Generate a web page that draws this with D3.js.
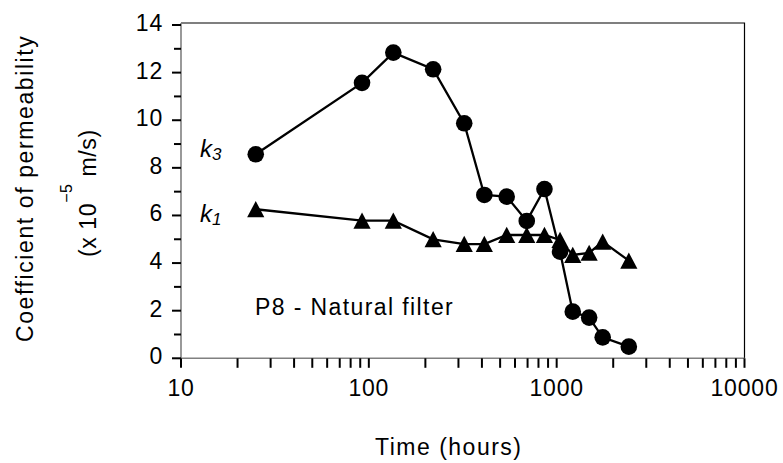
<!DOCTYPE html>
<html>
<head>
<meta charset="utf-8">
<script src="https://cdn.jsdelivr.net/npm/d3@7"></script>
<style>
	body { margin: 0; background: #fff; }
	svg { display: block; }
	text { font-family: "Liberation Sans", Arial, Helvetica, sans-serif; fill: #000; }
</style>
</head>
<body>
<div id="chart"></div>
<script>
// --- DATA --- //
var times = [25, 92, 135, 220, 322, 412, 542, 693, 861, 1042, 1218, 1489, 1758, 2422];
var k3Values = [8.57, 11.57, 12.84, 12.14, 9.87, 6.86, 6.79, 5.77, 7.11, 4.48, 1.96, 1.71, 0.88, 0.49];
var k1Values = [6.26, 5.78, 5.78, 5.0, 4.8, 4.8, 5.18, 5.18, 5.18, 4.97, 4.34, 4.43, 4.9, 4.1];
var yTickValues = [0, 2, 4, 6, 8, 10, 12, 14];
var xTickValues = [10, 100, 1000, 10000];

var width = 783, height = 463,
	fontSize = "23px",
	textSpacing = "1.5px",
	digitSpacing = "0.8px";

var svg = d3.select("#chart").append("svg")
	.attr("width", width)
	.attr("height", height);

// Scales
var x = d3.scaleLog().domain([10, 10000]).range([181, 744.5]),
	y = d3.scaleLinear().domain([0, 14]).range([358.3, 25]);

// minor tick positions
var xMinor = [];
[10, 100, 1000].forEach(function(d) {
	for (var m = 2; m <= 9; m++) xMinor.push(d * m);
});
var yMinor = d3.range(1, 14, 2);

// --- FRAME (top and right) --- //
svg.append("path")
	.attr("d", "M" + x(10) + "," + (y(14) - 2) + "H" + x(10000) + "V" + y(0))
	.attr("fill", "none")
	.attr("stroke", "#000")
	.attr("stroke-width", 1.2);

// --- AXES --- //
var xAxis = svg.append("g").attr("class", "x-axis");
xAxis.append("line")
	.attr("x1", x(10)).attr("x2", x(10000))
	.attr("y1", y(0)).attr("y2", y(0))
	.attr("stroke", "#808080").attr("stroke-width", 1.6);
xAxis.selectAll(".tick").data(xTickValues.concat(xMinor)).enter().append("line")
	.attr("x1", function(d) { return x(d); })
	.attr("x2", function(d) { return x(d); })
	.attr("y1", y(0))
	.attr("y2", y(0) + 9.5)
	.attr("stroke", "#000").attr("stroke-width", 2);
xAxis.selectAll(".xlabel").data(xTickValues).enter().append("text")
	.attr("x", function(d) { return x(d); })
	.attr("y", 395.5)
	.attr("text-anchor", "middle")
	.attr("font-size", fontSize)
	.attr("letter-spacing", digitSpacing)
	.text(function(d) { return d; });

var yAxis = svg.append("g").attr("class", "y-axis");
yAxis.append("line")
	.attr("x1", x(10)).attr("x2", x(10))
	.attr("y1", y(0)).attr("y2", y(14) - 2)
	.attr("stroke", "#808080").attr("stroke-width", 1.6);
yAxis.selectAll(".major").data(yTickValues).enter().append("line")
	.attr("x1", x(10) - 9).attr("x2", x(10))
	.attr("y1", function(d) { return y(d); })
	.attr("y2", function(d) { return y(d); })
	.attr("stroke", "#000").attr("stroke-width", 2);
yAxis.selectAll(".minor").data(yMinor).enter().append("line")
	.attr("x1", x(10) - 7).attr("x2", x(10))
	.attr("y1", function(d) { return y(d); })
	.attr("y2", function(d) { return y(d); })
	.attr("stroke", "#000").attr("stroke-width", 2);
yAxis.selectAll(".ylabel").data(yTickValues).enter().append("text")
	.attr("x", 163)
	.attr("y", function(d) { return y(d) + 6; })
	.attr("text-anchor", "end")
	.attr("font-size", fontSize)
	.attr("letter-spacing", digitSpacing)
	.text(function(d) { return d; });

// Axis titles (start-anchored so the ends land where the reference has them)
svg.append("text")
	.attr("transform", "translate(33,342) rotate(-90)")
	.attr("font-size", fontSize)
	.attr("letter-spacing", "1.6px")
	.text("Coefficient of permeability");

var unit = svg.append("text")
	.attr("transform", "translate(96,257) rotate(-90)")
	.attr("font-size", fontSize)
	.attr("letter-spacing", "0.6px");
unit.append("tspan").text("(x 10");
unit.append("tspan").attr("dy", -24).attr("font-size", "16px").text("\u22125");
unit.append("tspan").attr("dy", 24).text(" m/s)");

svg.append("text")
	.attr("x", 375)
	.attr("y", 455)
	.attr("font-size", fontSize)
	.attr("letter-spacing", textSpacing)
	.text("Time (hours)");

// --- SERIES --- //
var k1Data = times.map(function(t, i) { return { t: t, v: k1Values[i] }; }),
	k3Data = times.map(function(t, i) { return { t: t, v: k3Values[i] }; });

var line = d3.line()
	.x(function(d) { return x(d.t); })
	.y(function(d) { return y(d.v); });

svg.append("path").datum(k1Data)
	.attr("d", line)
	.attr("fill", "none").attr("stroke", "#000").attr("stroke-width", 2.3);

svg.selectAll(".tri").data(k1Data).enter().append("path")
	.attr("class", "tri")
	.attr("transform", function(d) { return "translate(" + x(d.t) + "," + y(d.v) + ")"; })
	.attr("d", "M0,-8.2L8.6,8L-8.6,8Z")
	.attr("fill", "#000");

svg.append("path").datum(k3Data)
	.attr("d", line)
	.attr("fill", "none").attr("stroke", "#000").attr("stroke-width", 2.3);

svg.selectAll(".dot").data(k3Data).enter().append("circle")
	.attr("class", "dot")
	.attr("cx", function(d) { return x(d.t); })
	.attr("cy", function(d) { return y(d.v); })
	.attr("r", 8.3)
	.attr("fill", "#000");

// --- LABELS --- //
function seriesLabel(xPos, yPos, sub) {
	var t = svg.append("text")
		.attr("x", xPos).attr("y", yPos)
		.attr("font-size", "24px")
		.attr("font-style", "italic");
	t.append("tspan").text("k");
	t.append("tspan").attr("dy", 3).attr("font-size", "17px").text(sub);
}
seriesLabel(200, 157, "3");
seriesLabel(200, 222, "1");

svg.append("text")
	.attr("x", 255)
	.attr("y", 315)
	.attr("font-size", fontSize)
	.attr("letter-spacing", "1.4px")
	.text("P8 - Natural filter");
</script>
</body>
</html>
